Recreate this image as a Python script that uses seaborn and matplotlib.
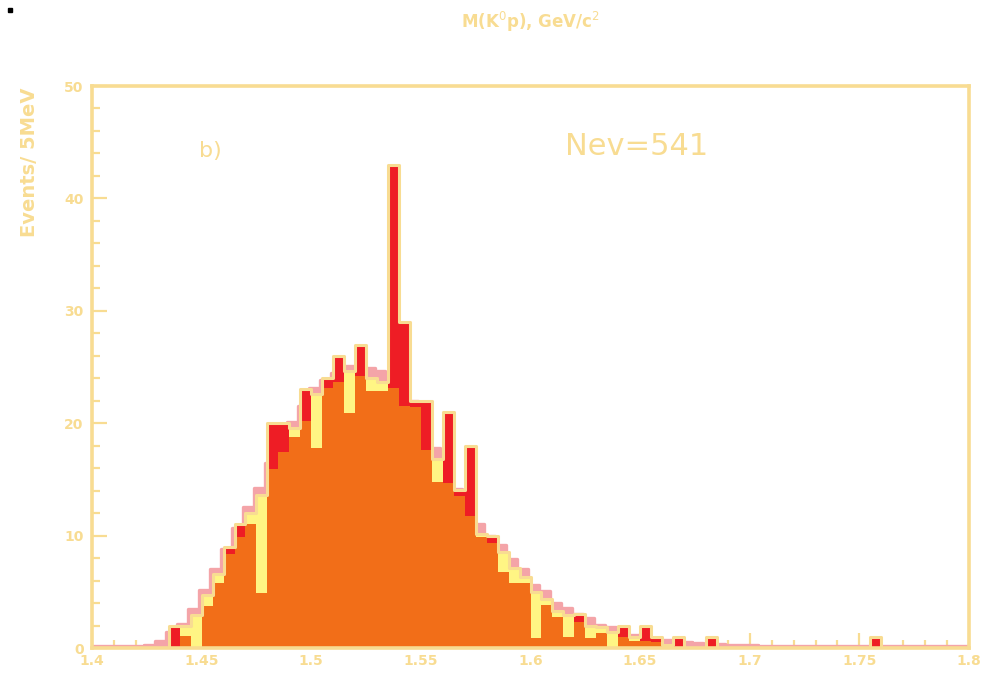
import numpy as np
import pandas as pd
import matplotlib
matplotlib.use("Agg")
import matplotlib.pyplot as plt
import matplotlib.transforms as mtransforms
from matplotlib.patches import Rectangle
from matplotlib.ticker import MultipleLocator, FixedLocator, FixedFormatter
import seaborn as sns

# ---------------- data (5 MeV bins from 1.400 to 1.800 GeV) ----------------
bin_edges = [round(1.400 + 0.005 * i, 3) for i in range(81)]

# observed events per bin
events = [0, 0, 0, 0, 0, 0, 0,
          2.0, 2.0, 2.9, 4.7, 6.6, 9.0, 11.0, 12.0, 13.6, 20.0,
          20.0, 19.6, 23.0, 22.6, 24.0, 26.0, 24.6, 27.0, 24.0, 23.7,
          43.0, 29.0, 22.0, 22.0, 16.8, 21.0, 14.1, 18.0, 10.1, 10.0,
          8.5, 7.1, 6.3, 5.0, 4.4, 3.3, 2.9, 3.0, 2.0, 1.9,
          1.4, 2.0, 1.0, 2.0, 1.0, 0.3, 1.0, 0, 0, 1.0,
          0, 0, 0, 0, 0, 0, 0, 0, 0, 0, 0, 0, 0, 0,
          1.0, 0, 0, 0, 0, 0, 0, 0, 0]

# second (orange) histogram
orange_hist = [0, 0, 0, 0, 0, 0, 0,
               0, 1.1, 0, 3.7, 5.8, 8.4, 9.9, 11.0, 4.9, 15.9,
               17.4, 18.8, 20.2, 17.8, 23.1, 23.7, 20.9, 24.2, 22.9, 22.9,
               23.1, 21.5, 21.4, 17.6, 14.8, 14.7, 13.5, 11.7, 9.9, 9.3,
               6.8, 5.8, 5.8, 0.9, 3.8, 2.8, 1.0, 2.3, 0.9, 1.3,
               0, 1.0, 0.65, 0.6, 0.5, 0, 0, 0, 0, 0,
               0, 0, 0, 0, 0, 0, 0, 0, 0, 0, 0, 0, 0, 0,
               0, 0, 0, 0, 0, 0, 0, 0, 0]

# background (pink) curve, per bin
background = [0.05, 0.05, 0.05, 0.05, 0.05, 0.1, 0.45,
              1.3, 2.0, 3.3, 5.0, 6.9, 8.7, 10.5, 12.4, 14.1, 16.3,
              18.1, 20.0, 21.4, 23.0, 23.7, 24.3, 25.0, 25.0, 24.8, 24.5,
              23.9, 23.0, 21.8, 19.6, 17.7, 16.1, 14.0, 12.7, 10.9, 9.8,
              9.0, 7.8, 6.9, 5.5, 4.9, 3.9, 3.4, 2.9, 2.5, 1.95,
              1.7, 1.5, 1.05, 0.9, 0.75, 0.6, 0.5, 0.4, 0.3, 0.25,
              0.2, 0.15, 0.12, 0.1, 0.08, 0.07, 0.06, 0.05, 0.05, 0.05, 0.05, 0.05, 0.05, 0.05,
              0.05, 0.05, 0.05, 0.05, 0.05, 0.05, 0.05, 0.05, 0.05]

x_ticks = [1.40, 1.45, 1.50, 1.55, 1.60, 1.65, 1.70, 1.75, 1.80]
x_tick_labels = ["1.4", "1.45", "1.5", "1.55", "1.6", "1.65", "1.7", "1.75", "1.8"]
y_ticks = [0, 10, 20, 30, 40, 50]
y_tick_labels = ["0", "10", "20", "30", "40", "50"]

# ---------------- styling ----------------
KHAKI = "#F8DC92"
RED = "#EE1D25"
YELLOW = "#FFF584"
ORANGE = "#F26E18"
PINK = "#F4A4A8"

sns.set_theme(style="white")
plt.rcParams["font.family"] = ["DejaVu Sans"]

edges = np.array(bin_edges)
centers = (edges[:-1] + edges[1:]) / 2
df = pd.DataFrame({"mass": centers, "events": events,
                   "orange": orange_hist, "bg": background})
df["excess"] = np.where(df["events"] > df["bg"], df["events"], 0.0)
df["below"] = np.where(df["events"] <= df["bg"], df["events"], 0.0)

fig = plt.figure(figsize=(9.86, 6.76), dpi=100)
ax = fig.add_axes([92 / 986, 1 - 648 / 676, (969 - 92) / 986, (648 - 86) / 676])

# pink background curve (filled step plus thick edge, slightly offset up/left)
pink_tr = mtransforms.offset_copy(ax.transData, fig=fig, x=-2.5, y=1.5, units="dots")
sns.histplot(data=df, x="mass", weights="bg", bins=bin_edges, element="step",
             fill=True, color=PINK, alpha=1, linewidth=0, edgecolor="none", ax=ax, zorder=1)
ax.collections[-1].set_transform(pink_tr)
sns.histplot(data=df, x="mass", weights="bg", bins=bin_edges, element="step",
             fill=False, color=PINK, linewidth=2.4, ax=ax, zorder=1)
ax.lines[-1].set_transform(pink_tr)

# data: red where above background, yellow where below
sns.histplot(data=df, x="mass", weights="excess", bins=bin_edges, element="step",
             fill=True, color=RED, alpha=1, linewidth=0, edgecolor="none", ax=ax, zorder=2)
sns.histplot(data=df, x="mass", weights="below", bins=bin_edges, element="step",
             fill=True, color=YELLOW, alpha=1, linewidth=0, edgecolor="none", ax=ax, zorder=2)
# orange histogram
sns.histplot(data=df, x="mass", weights="orange", bins=bin_edges, element="step",
             fill=True, color=ORANGE, alpha=1, linewidth=0, edgecolor="none", ax=ax, zorder=3)
# khaki outline of data histogram
sns.histplot(data=df, x="mass", weights="events", bins=bin_edges, element="step",
             fill=False, color=KHAKI, linewidth=2.2, ax=ax, zorder=4)

ax.set_xlim(1.4, 1.8)
ax.set_ylim(0, 50)
ax.set_xlabel("")
ax.set_ylabel("")

for s in ax.spines.values():
    s.set_color(KHAKI)
    s.set_linewidth(2.6)
    s.set_zorder(5)

ax.xaxis.set_major_locator(FixedLocator(x_ticks))
ax.xaxis.set_major_formatter(FixedFormatter(x_tick_labels))
ax.xaxis.set_minor_locator(MultipleLocator(0.01))
ax.yaxis.set_major_locator(FixedLocator(y_ticks))
ax.yaxis.set_major_formatter(FixedFormatter(y_tick_labels))
ax.yaxis.set_minor_locator(MultipleLocator(2))

ax.tick_params(axis="both", which="major", direction="in", length=11, width=1.6,
               color=KHAKI, labelcolor=KHAKI, labelsize=10, bottom=True, left=True,
               top=False, right=False)
ax.tick_params(axis="both", which="minor", direction="in", length=5.5, width=1.6,
               color=KHAKI, bottom=True, left=True, top=False, right=False)
ax.tick_params(axis="x", which="major", pad=4)
ax.tick_params(axis="y", which="major", pad=6)
for lab in ax.get_xticklabels() + ax.get_yticklabels():
    lab.set_fontweight("bold")
for t in ax.xaxis.get_major_ticks() + ax.yaxis.get_major_ticks() + \
         ax.xaxis.get_minor_ticks() + ax.yaxis.get_minor_ticks():
    t.tick1line.set_zorder(6)

# texts
fig.text(530 / 986, 1 - 22 / 676, r"M(K$^{0}$p), GeV/c$^{2}$", color=KHAKI,
         fontsize=12, fontweight="bold", ha="center", va="center")
fig.text(30 / 986, 1 - 162 / 676, "Events/ 5MeV", color=KHAKI, fontsize=14,
         fontweight="bold", rotation=90, ha="center", va="center")
ax.text(0.122, 0.885, "b)", transform=ax.transAxes, color=KHAKI, fontsize=16,
        ha="left", va="center")
ax.text(0.539, 0.893, "Nev=541", transform=ax.transAxes, color=KHAKI, fontsize=22,
        ha="left", va="center")

fig.patches.append(Rectangle((8 / 986, 1 - 12 / 676), 4 / 986, 4 / 676,
                             transform=fig.transFigure, color="black"))

fig.savefig("out.png", dpi=100, facecolor="white")
